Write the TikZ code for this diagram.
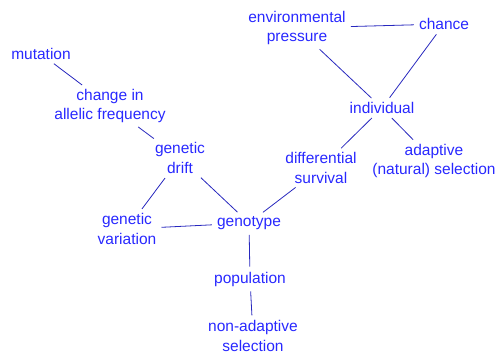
\documentclass[tikz,border=0pt]{standalone}
\usepackage{fontspec}
\setmainfont{Liberation Sans}
\usetikzlibrary{calc}
\definecolor{termblue}{RGB}{40,40,255}
\definecolor{linkblue}{RGB}{40,40,190}
\tikzset{
    termsty/.style={text=termblue,align=center,inner sep=2pt,font=\fontsize{15.5}{19.5}\selectfont},
    linksty/.style={draw=linkblue,line width=0.8pt,shorten >=3pt,shorten <=3pt},
}

\begin{document}
\begin{tikzpicture}[x=1pt,y=-1pt]
\useasboundingbox (0,0) rectangle (497,356);
% concepts
\node[termsty] (mut) at (41,54) {mutation};
\node[termsty] (caf) at (110,106) {change in\\allelic frequency};
\node[termsty] (gd) at (180,158) {genetic\\drift};
\node[termsty] (gv) at (127,229) {genetic\\variation};
\node[termsty] (gt) at (249,223) {genotype};
\node[termsty] (pop) at (250,279) {population};
\node[termsty] (nas) at (253,336) {non-adaptive\\selection};
\node[termsty] (ds) at (321,168) {differential\\survival};
\node[termsty] (ind) at (382,108) {individual};
\node[termsty] (ans) at (434,161) {adaptive\\(natural) selection};
\node[termsty] (ep) at (297,28) {environmental\\pressure};
\node[termsty] (ch) at (444,24) {chance};
% links
\draw[linksty] (mut) -- (caf);
\draw[linksty] (caf) -- (gd);
\draw[linksty] (gd) -- (gv);
\draw[linksty] (gd) -- (gt);
\draw[linksty] (gv) -- (gt);
\draw[linksty] (gt) -- (pop);
\draw[linksty] (pop) -- (nas);
\draw[linksty] (gt) -- (ds);
\draw[linksty] (ds) -- (ind);
\draw[linksty] (ind) -- (ans);
\draw[linksty] (ind) -- (ep);
\draw[linksty] (ind) -- (ch);
\draw[linksty] (ep) -- (ch);
\end{tikzpicture}
\end{document}
